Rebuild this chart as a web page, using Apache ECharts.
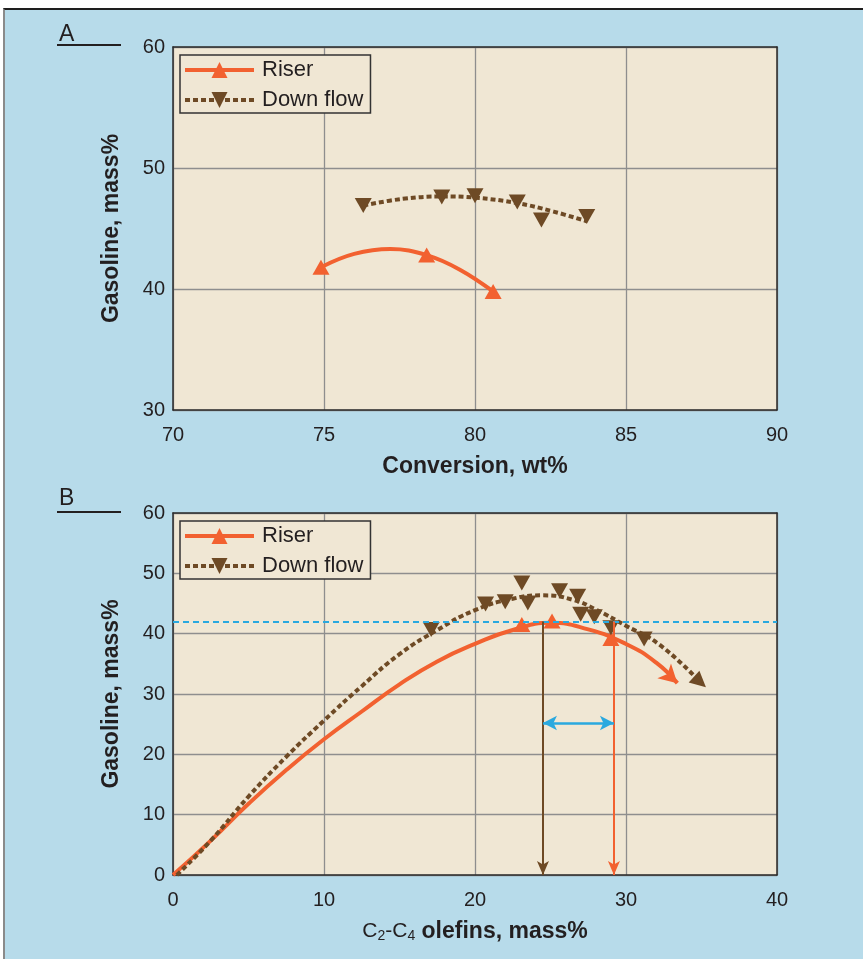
<!DOCTYPE html>
<html>
<head>
<meta charset="utf-8">
<script src="https://cdn.jsdelivr.net/npm/echarts@6/dist/echarts.min.js"></script>
<style>
  html, body { margin: 0; padding: 0; background: #ffffff; }
  #frame {
    position: absolute; left: 3px; top: 8px; width: 860px; height: 951px;
    background: #b7dbea; border-top: 2px solid #1e1e1e; border-left: 2px solid #8a8a8a;
    box-sizing: border-box;
  }
  #chart { position: absolute; left: 0; top: 0; width: 863px; height: 959px; }
</style>
</head>
<body>
<div id="frame"></div>
<div id="chart"></div>
<script>
// ---- Panel A: gasoline yield vs conversion ----
const riserPtsA = [[74.9, 41.8], [78.4, 42.8], [80.6, 39.8]];
const riserCurveA = [[74.9, 41.8], [76.0, 42.9], [77.2, 43.3], [78.4, 42.8], [79.5, 41.6], [80.6, 39.8]];
const downPtsA = [[76.3, 46.9], [78.9, 47.6], [80.0, 47.7], [81.4, 47.2], [82.2, 45.7], [83.7, 46.0]];
const downCurveA = [[76.3, 46.9], [77.6, 47.45], [78.9, 47.65], [80.0, 47.55], [81.4, 47.1], [82.6, 46.4], [83.7, 45.6]];

// ---- Panel B: gasoline yield vs C2-C4 olefins ----
const riserPtsB = [[23.1, 41.5], [25.1, 42.1], [29.0, 39.2]];
const riserCurveB = [[0, 0], [2.5, 5.7], [5, 11.8], [7.5, 17.4], [10, 22.5], [12.5, 27.1], [15, 31.6],
  [17.5, 35.4], [20, 38.3], [22.5, 40.6], [25, 41.8], [27.5, 40.7], [30, 38.3], [32, 35.2], [33.4, 31.8]];
const downPtsB = [[17.1, 40.7], [20.7, 44.9], [22.0, 45.3], [23.1, 48.4], [23.5, 45.1], [25.6, 47.1],
  [26.8, 46.2], [27.0, 43.2], [27.9, 42.8], [29.0, 41.0], [31.2, 39.1]];
const downCurveB = [[0.25, 0], [2.5, 5.7], [5, 13.0], [7.5, 19.6], [10, 25.6], [12.5, 31.3], [15, 36.6],
  [17.5, 40.6], [20, 43.9], [22.5, 45.8], [24.5, 46.35], [26.5, 45.6], [28, 44.0], [30, 41.3], [32.2, 38.2], [34.9, 32.0]];

// reference gasoline level and the olefin yields where each curve reaches it
const refGasoline = 42;
const downOlefinAtRef = 24.5;
const riserOlefinAtRef = 29.2;
const gapArrowLevel = 25.2;

// axis ranges
const convRange = [70, 90, 5];
const gasRangeA = [30, 60, 10];
const olefinRange = [0, 40, 10];
const gasRangeB = [0, 60, 10];

const ORANGE = '#f26130';
const BROWN = '#6e4a25';
const BLUE = '#2aa9df';
const PLOT_BG = '#f0e7d4';
const GRID_GRAY = '#8e8e8e';
const INK = '#231f20';
const FONT = 'Liberation Sans';

const dotted = { type: [5, 3], width: 4, color: BROWN, cap: 'butt' };
const solid = { type: 'solid', width: 4, color: ORANGE };

function mainX(gi, r, name) {
  return {
    type: 'value', gridIndex: gi, min: r[0], max: r[1], interval: r[2], position: 'bottom',
    axisLine: { show: true, onZero: false, lineStyle: { color: '#2b2b2b', width: 1.5 } },
    axisTick: { show: false },
    splitLine: { show: true, lineStyle: { color: GRID_GRAY, width: 1.3 } },
    axisLabel: { fontSize: 20, color: INK, fontFamily: FONT, margin: 15 },
    name: name, nameLocation: 'middle', nameGap: 45,
    nameTextStyle: { fontSize: 23, fontWeight: 'bold', color: INK, fontFamily: FONT }
  };
}
function edgeX(gi, r) {
  return {
    type: 'value', gridIndex: gi, min: r[0], max: r[1], interval: r[2], position: 'top',
    axisLine: { show: true, onZero: false, lineStyle: { color: '#2b2b2b', width: 1.5 } },
    axisTick: { show: false }, axisLabel: { show: false }, splitLine: { show: false }
  };
}
function mainY(gi, r) {
  return {
    type: 'value', gridIndex: gi, min: r[0], max: r[1], interval: r[2], position: 'left',
    axisLine: { show: true, onZero: false, lineStyle: { color: '#2b2b2b', width: 1.5 } },
    axisTick: { show: false },
    splitLine: { show: true, lineStyle: { color: GRID_GRAY, width: 1.3 } },
    axisLabel: { fontSize: 20, color: INK, fontFamily: FONT, margin: 8 },
    name: 'Gasoline, mass%', nameLocation: 'middle', nameGap: 50,
    nameTextStyle: { fontSize: 23, fontWeight: 'bold', color: INK, fontFamily: FONT }
  };
}
function edgeY(gi, r) {
  return {
    type: 'value', gridIndex: gi, min: r[0], max: r[1], interval: r[2], position: 'right',
    axisLine: { show: true, onZero: false, lineStyle: { color: '#2b2b2b', width: 1.5 } },
    axisTick: { show: false }, axisLabel: { show: false }, splitLine: { show: false }
  };
}
function legendAt(top) {
  return {
    data: ['Riser', 'Down flow'], orient: 'vertical', left: 180, top: top,
    itemWidth: 69, itemHeight: 20, itemGap: 8, padding: [4, 7, 2, 3],
    backgroundColor: PLOT_BG, borderColor: '#333333', borderWidth: 1.5, borderRadius: 0,
    selectedMode: false,
    lineStyle: { width: 4 },
    textStyle: { fontSize: 22, color: INK, fontFamily: FONT, padding: [0, 0, 0, 3] }
  };
}
function endSymbol(curve, symbol, size, rotate) {
  return curve.map((p, i) => i === curve.length - 1
    ? { value: p, symbol: symbol, symbolSize: size, symbolRotate: rotate }
    : { value: p });
}

const chart = echarts.init(document.getElementById('chart'), null, { renderer: 'canvas' });

chart.setOption({
  animation: false,
  backgroundColor: 'transparent',
  grid: [
    { left: 173, top: 47, width: 604, height: 363, show: true, backgroundColor: PLOT_BG, borderWidth: 0 },
    { left: 173, top: 513, width: 604, height: 362, show: true, backgroundColor: PLOT_BG, borderWidth: 0 }
  ],
  xAxis: [
    mainX(0, convRange, 'Conversion, wt%'),
    edgeX(0, convRange),
    Object.assign(mainX(1, olefinRange, '{n|C}{s|2}{n|-C}{s|4}{b| olefins, mass%}'), {
      nameTextStyle: {
        color: INK, fontFamily: FONT,
        rich: {
          n: { fontSize: 21, color: INK, fontFamily: FONT },
          s: { fontSize: 14, color: INK, fontFamily: FONT, padding: [9, 0, 0, 0] },
          b: { fontSize: 23, fontWeight: 'bold', color: INK, fontFamily: FONT }
        }
      }
    }),
    edgeX(1, olefinRange)
  ],
  yAxis: [
    mainY(0, gasRangeA),
    edgeY(0, gasRangeA),
    mainY(1, gasRangeB),
    edgeY(1, gasRangeB)
  ],
  legend: [legendAt(55), legendAt(521)],
  graphic: [
    { type: 'text', left: 59, top: 23, style: { text: 'A', fontSize: 23, fill: INK, fontFamily: FONT } },
    { type: 'line', shape: { x1: 57, y1: 45, x2: 121, y2: 45 }, style: { stroke: INK, lineWidth: 2 } },
    { type: 'text', left: 59, top: 487, style: { text: 'B', fontSize: 23, fill: INK, fontFamily: FONT } },
    { type: 'line', shape: { x1: 57, y1: 512, x2: 121, y2: 512 }, style: { stroke: INK, lineWidth: 2 } }
  ],
  series: [
    // legend entries
    { name: 'Riser', type: 'line', xAxisIndex: 0, yAxisIndex: 0, data: [],
      symbol: 'triangle', symbolSize: 16, itemStyle: { color: ORANGE }, lineStyle: solid },
    { name: 'Down flow', type: 'line', xAxisIndex: 0, yAxisIndex: 0, data: [],
      symbol: 'triangle', symbolRotate: 180, symbolSize: 16, itemStyle: { color: BROWN }, lineStyle: dotted },

    // panel A
    { name: 'Riser fit A', type: 'line', xAxisIndex: 0, yAxisIndex: 0, data: riserCurveA,
      smooth: 0.4, symbol: 'none', lineStyle: solid, z: 3 },
    { name: 'Down flow fit A', type: 'line', xAxisIndex: 0, yAxisIndex: 0, data: downCurveA,
      smooth: 0.4, symbol: 'none', lineStyle: dotted, z: 3 },
    { name: 'Riser data A', type: 'scatter', xAxisIndex: 0, yAxisIndex: 0, data: riserPtsA,
      symbol: 'triangle', symbolSize: [17, 15], itemStyle: { color: ORANGE, opacity: 1 }, z: 4 },
    { name: 'Down flow data A', type: 'scatter', xAxisIndex: 0, yAxisIndex: 0, data: downPtsA,
      symbol: 'triangle', symbolRotate: 180, symbolSize: [17, 15], itemStyle: { color: BROWN, opacity: 1 }, z: 4 },

    // panel B
    { name: 'Riser fit B', type: 'line', xAxisIndex: 2, yAxisIndex: 2,
      data: endSymbol(riserCurveB, 'arrow', [15, 18], -133),
      smooth: 0.5, symbol: 'none', showSymbol: true, itemStyle: { color: ORANGE }, lineStyle: solid, z: 3 },
    { name: 'Down flow fit B', type: 'line', xAxisIndex: 2, yAxisIndex: 2,
      data: endSymbol(downCurveB, 'triangle', [16, 16], -132),
      smooth: 0.5, symbol: 'none', showSymbol: true, itemStyle: { color: BROWN }, lineStyle: dotted, z: 3 },
    { name: 'Riser data B', type: 'scatter', xAxisIndex: 2, yAxisIndex: 2, data: riserPtsB,
      symbol: 'triangle', symbolSize: [17, 15], itemStyle: { color: ORANGE, opacity: 1 }, z: 4 },
    { name: 'Down flow data B', type: 'scatter', xAxisIndex: 2, yAxisIndex: 2, data: downPtsB,
      symbol: 'triangle', symbolRotate: 180, symbolSize: [17, 15], itemStyle: { color: BROWN, opacity: 1 }, z: 4 },

    // reference level and olefin-yield markers
    { name: 'Reference', type: 'line', xAxisIndex: 2, yAxisIndex: 2, data: [], z: 2,
      markLine: {
        silent: true, animation: false, symbol: ['none', 'none'], label: { show: false },
        data: [
          [{ coord: [olefinRange[0], refGasoline], lineStyle: { color: BLUE, width: 2, type: [6, 4] } },
           { coord: [olefinRange[1], refGasoline] }],
          [{ coord: [downOlefinAtRef, refGasoline], symbol: 'none', lineStyle: { color: BROWN, width: 2, type: 'solid' } },
           { coord: [downOlefinAtRef, 0], symbol: 'arrow', symbolSize: [9, 14] }],
          [{ coord: [riserOlefinAtRef, refGasoline], symbol: 'none', lineStyle: { color: ORANGE, width: 2, type: 'solid' } },
           { coord: [riserOlefinAtRef, 0], symbol: 'arrow', symbolSize: [9, 14] }],
          [{ coord: [downOlefinAtRef, gapArrowLevel], symbol: 'arrow', symbolSize: [11, 14], lineStyle: { color: BLUE, width: 2.5, type: 'solid' } },
           { coord: [riserOlefinAtRef, gapArrowLevel], symbol: 'arrow', symbolSize: [11, 14] }]
        ]
      }
    }
  ]
});
</script>
</body>
</html>
